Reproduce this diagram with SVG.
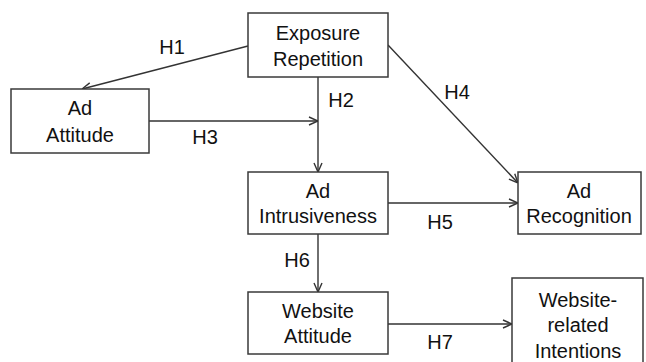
<svg xmlns="http://www.w3.org/2000/svg" width="646" height="362" viewBox="0 0 646 362">
<style>
.box{fill:#fff;stroke:#3a3a3a;stroke-width:1.5}
.t{font-family:"Liberation Sans",Arial,sans-serif;font-size:20px;fill:#111;text-anchor:middle}
.c{stroke:#333;stroke-width:1.4;fill:none;marker-end:url(#ah)}
</style>
<defs>
<marker id="ah" viewBox="0 0 10 10" refX="10" refY="5" markerWidth="10" markerHeight="10" markerUnits="userSpaceOnUse" orient="auto">
<path d="M1,1 L10,5 L1,9" fill="none" stroke="#333" stroke-width="1.4"/>
</marker>
</defs>
<rect width="646" height="362" fill="#fff"/>
<g id="connectors">
<path class="c" d="M248,46 L82,89"/>
<path class="c" d="M318,77 L318,172"/>
<path class="c" d="M149,121 L318,121"/>
<path class="c" d="M388,45 L518,183"/>
<path class="c" d="M388,203 L518,203"/>
<path class="c" d="M318,234 L318,292"/>
<path class="c" d="M388,324 L512,324"/>
<text class="t" x="172" y="54">H1</text>
<text class="t" x="341" y="107">H2</text>
<text class="t" x="205" y="144">H3</text>
<text class="t" x="457" y="99">H4</text>
<text class="t" x="440" y="229">H5</text>
<text class="t" x="297" y="267">H6</text>
<text class="t" x="440" y="349">H7</text>
</g>
<g id="exposure">
<rect class="box" x="248" y="13" width="140" height="64"/>
<text class="t" x="318" y="40">Exposure</text>
<text class="t" x="318" y="66">Repetition</text>
</g>
<g id="adattitude">
<rect class="box" x="11" y="89" width="138" height="64"/>
<text class="t" x="80" y="115">Ad</text>
<text class="t" x="80" y="142">Attitude</text>
</g>
<g id="intrusiveness">
<rect class="box" x="248" y="172" width="140" height="62"/>
<text class="t" x="318" y="198">Ad</text>
<text class="t" x="318" y="223">Intrusiveness</text>
</g>
<g id="recognition">
<rect class="box" x="518" y="172" width="123" height="62"/>
<text class="t" x="579" y="198">Ad</text>
<text class="t" x="579" y="223">Recognition</text>
</g>
<g id="websiteattitude">
<rect class="box" x="248" y="292" width="140" height="62"/>
<text class="t" x="318" y="318">Website</text>
<text class="t" x="318" y="343">Attitude</text>
</g>
<g id="intentions">
<path class="box" d="M512,364 L512,278 L643,278 L643,364"/>
<text class="t" x="578" y="307">Website-</text>
<text class="t" x="578" y="332">related</text>
<text class="t" x="578" y="358">Intentions</text>
</g>
</svg>
